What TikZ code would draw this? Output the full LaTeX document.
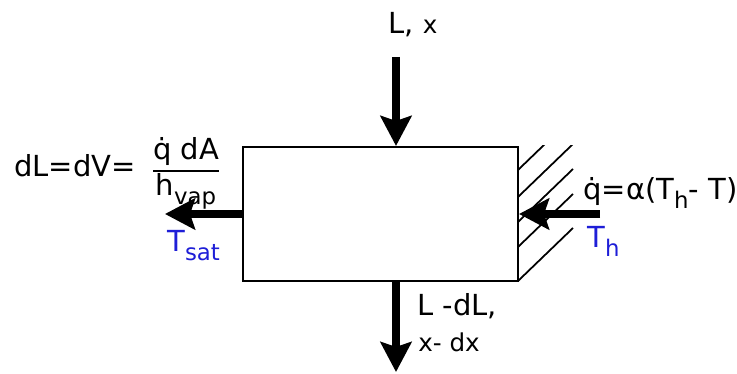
\documentclass[tikz,border=0pt]{standalone}
\usepackage{fontspec}
\setmainfont{DejaVu Sans}
\usepackage{xcolor}
\usetikzlibrary{positioning,arrows.meta}
\definecolor{tblue}{RGB}{30,30,215}
\newcommand\lowsub[1]{\raisebox{-0.3em}{\fontsize{13}{13}\selectfont #1}}

\begin{document}
\begin{tikzpicture}[x=0.02cm, y=-0.02cm,
    lbl/.style={inner sep=0pt, anchor=base west, font=\fontsize{16.5}{19}\selectfont},
    slbl/.style={lbl, font=\fontsize{14}{17}\selectfont},
    tlbl/.style={lbl, text=tblue},
    cellbox/.style={draw, line width=1.2pt, minimum width=5.5cm, minimum height=2.68cm, inner sep=0pt},
    flow/.style={line width=4pt, -{Stealth[length=0.6cm, width=0.62cm, inset=0.1cm]}},
    hatch/.style={line width=1pt}
  ]
  \useasboundingbox (0,0) rectangle (737,374);
  % Control volume
  \node[cellbox] (cell) at (380.5,214) {};
  % Heated wall
  \begin{scope}
    \clip (cell.north east) rectangle (590,282);
    \foreach \y in {170,197,222,247,281}
      \draw[hatch] (518,\y) -- (573,\y-53);
  \end{scope}

  \coordinate (inL)  at (396,57);
  \coordinate (outL) at (396,372);
  \coordinate (outV) at (165,214);
  \coordinate (heat) at (600,214);
  \draw[flow] (inL) -- (inL |- cell.north);
  \draw[flow] (outL |- cell.south) -- (outL);
  \draw[flow] (cell.west) -- (outV);
  \draw[flow] (heat) -- (cell.east);

  % Labels
  \node[lbl] (lin) at (388,34) {L, {\fontsize{14}{17}\selectfont x}};
  \node[lbl] (lout) at (417,316) {L -dL,};
  \node[slbl] (xout) at (418,352) {x- dx};
  \node[lbl] (dl) at (14,177) {dL=dV=};
  \node[lbl, anchor=base] (frac) at (186,160)
    {\setlength{\arrayrulewidth}{1.2pt}\begin{tabular}[t]{@{}c@{}}\.q dA\\\hline h\lowsub{vap}\end{tabular}};
  \node[tlbl] (tsat) at (167,252) {T\lowsub{sat}};
  \node[lbl] (qflux) at (583,200) {\.q=α(T\lowsub{h}- T)};
  \node[tlbl] (th) at (587,248) {T\lowsub{h}};
\end{tikzpicture}
\end{document}
